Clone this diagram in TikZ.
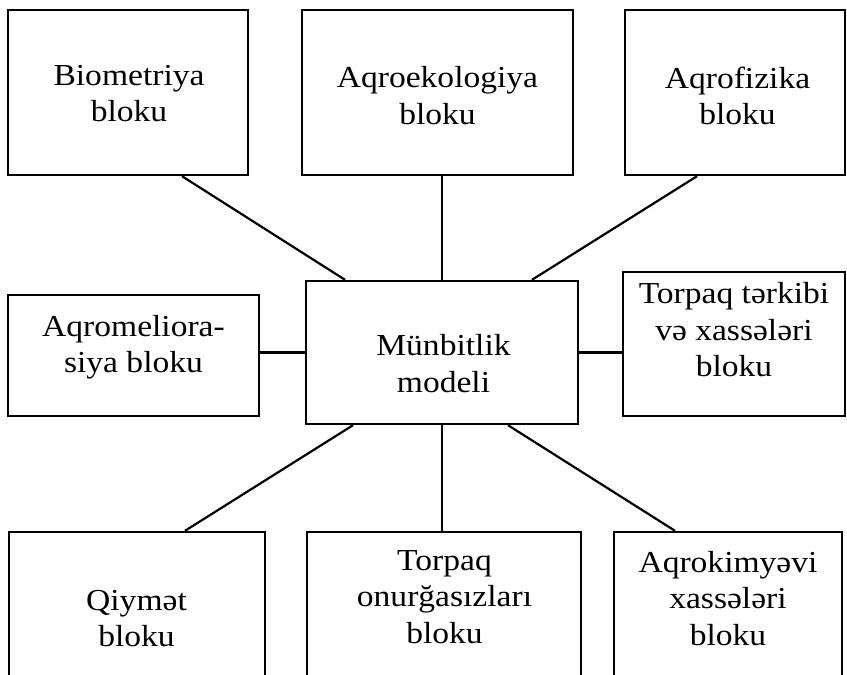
\documentclass[tikz,border=0pt]{standalone}
\usepackage{fontspec}
\setmainfont[FakeStretch=1.1]{Liberation Serif}
\usetikzlibrary{calc}

\begin{document}
\begin{tikzpicture}[x=1pt,y=-1pt,
  block/.style={draw,line width=2.4pt,rectangle,inner sep=0pt},
  blocktext/.style={align=center,inner sep=0pt,font=\fontsize{30.5}{36.5}\selectfont},
  link/.style={line width=2.2pt}]
  \useasboundingbox (0,0) rectangle (847,675);
  \clip (0,0) rectangle (847,675);
  % Top row
  \node[block,minimum width=240pt,minimum height=165pt] (bio) at (128,92.5) {};
  \node[blocktext] (bio-t) at (129,93.5) {Biometriya\\bloku};
  \node[block,minimum width=271pt,minimum height=165pt] (eco) at (437.5,92.5) {};
  \node[blocktext] (eco-t) at (437.5,95.5) {Aqroekologiya\\bloku};
  \node[block,minimum width=220pt,minimum height=165pt] (fiz) at (735,92.5) {};
  \node[blocktext] (fiz-t) at (737.5,96) {Aqrofizika\\bloku};
  % Middle row
  \node[block,minimum width=251pt,minimum height=121pt] (mel) at (133.5,355.5) {};
  \node[blocktext] (mel-t) at (133.5,347) {Aqromeliora-\\siya bloku};
  \node[block,minimum width=272pt,minimum height=143pt] (model) at (442,352.5) {};
  \node[blocktext] (model-t) at (443.5,363.5) {Münbitlik\\modeli};
  \node[block,minimum width=222pt,minimum height=144pt] (tar) at (734,344) {};
  \node[blocktext] (tar-t) at (734,330) {Torpaq tərkibi\\və xassələri\\bloku};
  % Bottom row (cut off by the page edge)
  \node[block,minimum width=256pt,minimum height=180pt] (qiy) at (137,622) {};
  \node[blocktext] (qiy-t) at (136.5,618.5) {Qiymət\\bloku};
  \node[block,minimum width=274pt,minimum height=180pt] (onu) at (444,622) {};
  \node[blocktext] (onu-t) at (444.5,597) {Torpaq\\onurğasızları\\bloku};
  \node[block,minimum width=228pt,minimum height=180pt] (kim) at (728,622) {};
  \node[blocktext] (kim-t) at (728,598.5) {Aqrokimyəvi\\xassələri\\bloku};
  % Links to the model
  \draw[link] ($(bio.south)+(54,0)$) -- ($(model.north)+(-97,0)$);
  \draw[link] (model.north) -- (model.north |- eco.south);
  \draw[link] ($(fiz.south)+(-38,0)$) -- ($(model.north)+(90,0)$);
  \draw[link] (model.west) -- (model.west -| mel.east);
  \draw[link] (model.east) -- (model.east -| tar.west);
  \draw[link] ($(model.south)+(-89,0)$) -- ($(qiy.north)+(48,0)$);
  \draw[link] (model.south) -- (model.south |- onu.north);
  \draw[link] ($(model.south)+(66,0)$) -- ($(kim.north)+(-53,0)$);
\end{tikzpicture}
\end{document}
